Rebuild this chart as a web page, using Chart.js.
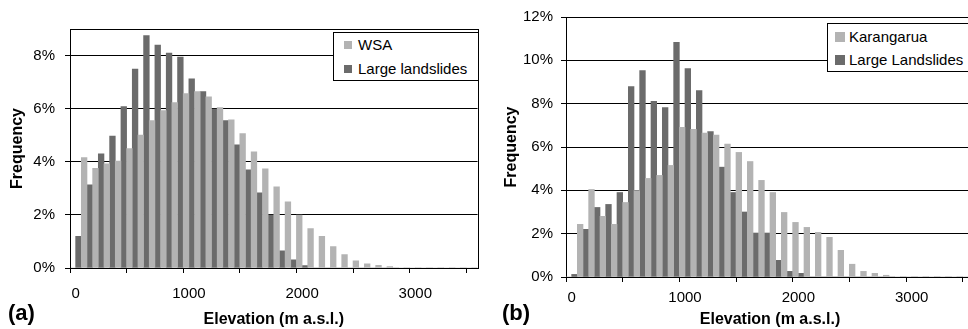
<!DOCTYPE html>
<html>
<head>
  <script src="https://cdn.jsdelivr.net/npm/chart.js@4.4.1/dist/chart.umd.min.js"></script>
<style>
  html, body { margin: 0; padding: 0; overflow: hidden; background: #fff; width: 968px; height: 329px; }
  body { position: relative; font-family: "Liberation Sans", Arial, sans-serif; }
  canvas { position: absolute; top: 0; }
  .tag { position: absolute; top: 302px; font-weight: bold; font-size: 22px; line-height: 22px; }
  .legend { position: absolute; background: #fff; border: 1px solid #000; box-sizing: border-box; font-size: 15px; }
  .legend div { position: absolute; white-space: nowrap; }
  .legend span { position: absolute; }
</style>
</head>
<body>
  <canvas id="chartA" width="484" height="329" style="left:0"></canvas>
  <canvas id="chartB" width="490" height="329" style="left:490px"></canvas>
  <div class="tag" style="left:8px">(a)</div>
  <div class="tag" style="left:502px">(b)</div>
  <div class="legend" id="legendA" style="left:333px; top:32px; width:146px; height:49px"></div>
  <div class="legend" id="legendB" style="left:827px; top:23px; width:150px; height:49px"></div>
  <script>
    // elevation classes (m a.s.l.)
    var elevation = [];
    for (var e = 0; e <= 3500; e += 100) elevation.push(String(e));

    // frequency in %
    var wsa = [0, 4.16, 3.75, 3.92, 4.03, 4.50, 5.01, 5.55, 5.93, 6.23, 6.57, 6.64, 6.45, 6.04, 5.58, 5.06, 4.37, 3.73,
      3.06, 2.49, 1.99, 1.48, 1.19, 0.81, 0.51, 0.27, 0.16, 0.10, 0.05, 0, 0, 0, 0, 0, 0, 0];
    var landslidesA = [1.19, 3.13, 4.30, 4.97, 6.08, 7.49, 8.75, 8.39, 8.09, 7.94, 7.12, 6.64, 5.98, 5.55, 4.64, 3.70, 2.83, 1.99,
      0.65, 0.31, 0.09, 0, 0, 0, 0, 0, 0, 0, 0, 0, 0, 0, 0, 0, 0, 0];
    var karangarua = [0, 2.43, 4.04, 2.80, 2.43, 3.44, 3.99, 4.55, 4.69, 5.15, 6.91, 6.81, 6.64, 6.55, 6.13, 5.75, 5.33, 4.46,
      3.90, 2.98, 2.52, 2.29, 2.06, 1.83, 1.23, 0.59, 0.26, 0.17, 0.08, 0, 0, 0, 0, 0, 0, 0];
    var landslidesB = [0.12, 2.20, 3.21, 3.35, 3.90, 8.79, 9.53, 8.11, 7.82, 10.83, 9.62, 8.60, 6.71, 5.07, 3.90, 3.00, 2.03, 2.03,
      0.77, 0.26, 0.17, 0, 0, 0, 0, 0, 0, 0, 0, 0, 0, 0, 0, 0, 0, 0];

    var yTicksA = [0, 2, 4, 6, 8];
    var yTicksB = [0, 2, 4, 6, 8, 10, 12];

    var light = '#b3b3b3';
    var dark = '#6b6b6b';
    var fontFam = "'Liberation Sans', Arial, sans-serif";

    Chart.defaults.font.family = fontFam;
    Chart.defaults.color = '#000';

    var frame = {
      id: 'frame',
      afterDatasetsDraw: function (chart, args, opts) {
        if (!opts.on) return;
        var a = chart.chartArea, c = chart.ctx;
        c.save();
        c.strokeStyle = '#000';
        c.lineWidth = 1;
        c.strokeRect(Math.round(a.left) + 0.5, Math.round(a.top) + 0.5, Math.round(a.right - a.left), Math.round(a.bottom - a.top));
        c.restore();
      }
    };

    function makeChart(id, series, names, yMax, yTicks, o) {
      return new Chart(document.getElementById(id), {
        type: 'bar',
        data: {
          labels: elevation,
          datasets: [
            { label: names[0], data: series[0], backgroundColor: light, barPercentage: 1, categoryPercentage: 1 },
            { label: names[1], data: series[1], backgroundColor: dark, barPercentage: 1, categoryPercentage: 1 }
          ]
        },
        options: {
          responsive: false,
          animation: false,
          layout: { padding: { top: o.top, right: o.right, left: 0, bottom: 0 } },
          plugins: { legend: { display: false }, tooltip: { enabled: false }, frame: { on: o.frame } },
          scales: {
            x: {
              offset: true,
              afterFit: function (s) { s.height = o.xHeight; },
              grid: {
                offset: true, drawOnChartArea: false, tickLength: 5,
                tickColor: function (ctx) { return ctx.index % 5 === 0 ? '#000' : 'rgba(0,0,0,0)'; }
              },
              border: { color: '#000', width: 1 },
              ticks: {
                autoSkip: false, maxRotation: 0, padding: o.xPad,
                font: { size: 15 },
                callback: function (v, i) { return i % 10 === 0 ? this.getLabelForValue(v) : ''; }
              },
              title: { display: true, text: 'Elevation (m a.s.l.)', font: { size: 16, weight: 'bold' }, padding: { top: 0, bottom: 0 } }
            },
            y: {
              min: 0, max: yMax,
              afterFit: function (s) { s.width = o.yWidth; },
              afterBuildTicks: function (s) { s.ticks = yTicks.map(function (v) { return { value: v }; }); },
              grid: { color: '#000', lineWidth: 1, tickLength: 5, tickColor: '#000' },
              border: { color: '#000', width: 1 },
              ticks: { padding: o.yPad, font: { size: 15 }, callback: function (v) { return v + '%'; } },
              title: { display: true, text: 'Frequency', font: { size: 16, weight: 'bold' }, padding: { top: o.yTitle, bottom: 0 } }
            }
          }
        },
        plugins: [frame]
      });
    }

    var chartA = makeChart('chartA', [wsa, landslidesA], ['WSA', 'Large landslides'], 9, yTicksA,
      { top: 29, right: 6, xHeight: 61, yWidth: 70, xPad: 12, yPad: 10, yTitle: 8, frame: true });
    var chartB = makeChart('chartB', [karangarua, landslidesB], ['Karangarua', 'Large Landslides'], 12, yTicksB,
      { top: 16, right: 6, xHeight: 52, yWidth: 76, xPad: 7, yPad: 8, yTitle: 12, frame: false });

    function buildLegend(elId, chart, sw, rows) {
      var box = document.getElementById(elId);
      chart.data.datasets.forEach(function (ds, i) {
        var s = document.createElement('span');
        s.style.left = rows.swX + 'px';
        s.style.top = (rows.y0 + i * rows.dy - sw / 2) + 'px';
        s.style.width = sw + 'px';
        s.style.height = sw + 'px';
        s.style.background = ds.backgroundColor;
        box.appendChild(s);
        var t = document.createElement('div');
        t.textContent = ds.label;
        t.style.left = rows.txX + 'px';
        t.style.top = (rows.y0 + i * rows.dy - 9) + 'px';
        t.style.lineHeight = '18px';
        box.appendChild(t);
      });
    }
    buildLegend('legendA', chartA, 8, { swX: 10, txX: 24, y0: 12, dy: 24 });
    buildLegend('legendB', chartB, 10, { swX: 7, txX: 21, y0: 13, dy: 23 });
  </script>
</body>
</html>
